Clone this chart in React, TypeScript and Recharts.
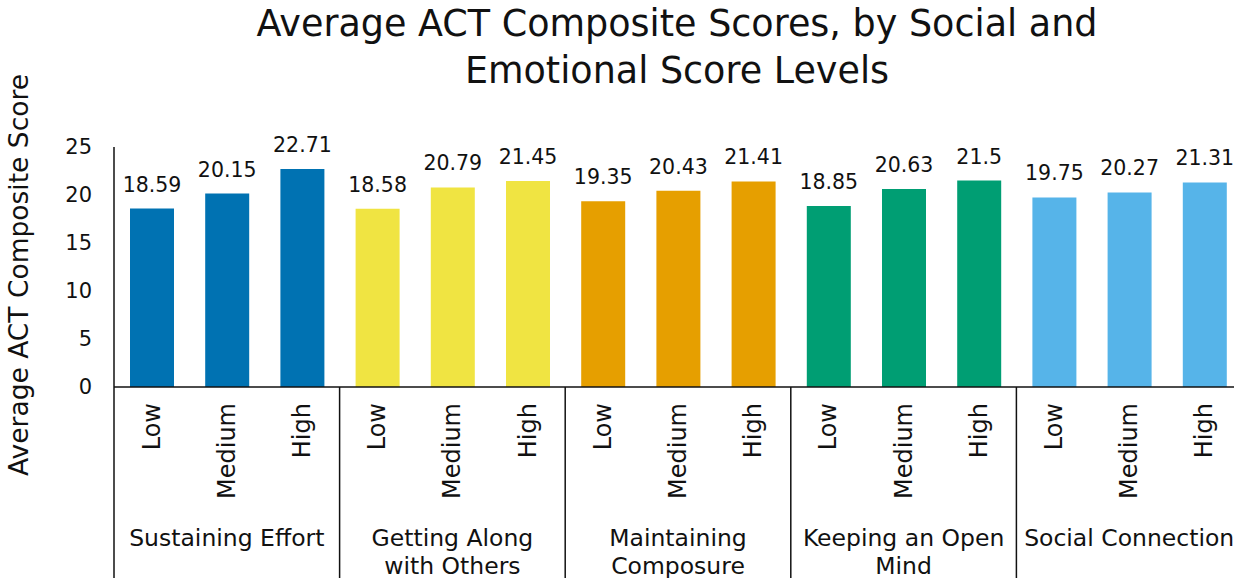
import { Bar, BarChart, Cell, LabelList, Label, XAxis, YAxis } from "recharts";

const levels = ["Low", "Medium", "High"];
const groupLines = [
  ["Sustaining Effort"],
  ["Getting Along", "with Others"],
  ["Maintaining", "Composure"],
  ["Keeping an Open", "Mind"],
  ["Social Connection"],
];
const groupColors = ["#0072B2", "#F0E442", "#E69F00", "#009E73", "#56B4E9"];
const scores = [
  [18.59, 20.15, 22.71],
  [18.58, 20.79, 21.45],
  [19.35, 20.43, 21.41],
  [18.85, 20.63, 21.5],
  [19.75, 20.27, 21.31],
];
const yTicks = [0, 5, 10, 15, 20, 25];

const data = groupLines.flatMap((_, gi) =>
  levels.map((level, li) => ({
    key: `${gi}-${li}`,
    level,
    group: gi,
    idx: li,
    score: scores[gi][li],
  }))
);

const FONT = "'DejaVu Sans', sans-serif";
const W = 1250;
const H = 578;
const M = { top: 147, right: 8, left: 0, bottom: 0 };
const Y_W = 114;
const BAND = (W - M.left - M.right - Y_W) / data.length;

function LevelTick(props: any) {
  const { x, y, payload } = props;
  const d = data[payload.index];
  const ty = y + 16;
  return (
    <g>
      <text
        x={x}
        y={ty}
        transform={`rotate(-90 ${x} ${ty})`}
        textAnchor="end"
        dominantBaseline="central"
        fontSize={24}
        fill="#111"
        fontFamily={FONT}
      >
        {d.level}
      </text>
      {d.idx === 0 && (
        <line x1={x - BAND / 2} x2={x - BAND / 2} y1={y} y2={y + 191} stroke="#111" strokeWidth={1.5} />
      )}
      {d.idx === 1 &&
        groupLines[d.group].map((line, i) => (
          <text
            key={i}
            x={x}
            y={y + 159 + i * 27.5}
            textAnchor="middle"
            fontSize={23.5}
            fill="#111"
            fontFamily={FONT}
          >
            {line}
          </text>
        ))}
    </g>
  );
}

export default function App() {
  return (
    <div style={{ position: "absolute", left: 0, top: 0, width: 1234, height: 578, overflow: "hidden", background: "#fff" }}>
      <div
        style={{
          position: "absolute",
          left: 0,
          top: 0,
          width: 1354,
          textAlign: "center",
          fontFamily: FONT,
          fontSize: 36.5,
          lineHeight: "47px",
          color: "#111",
          zIndex: 1,
          whiteSpace: "nowrap",
        }}
      >
        Average ACT Composite Scores, by Social and
        <br />
        Emotional Score Levels
      </div>
      <BarChart width={W} height={H} data={data} margin={M}>
        <XAxis
          dataKey="key"
          interval={0}
          height={191}
          tickLine={false}
          tickSize={0}
          tickMargin={0}
          axisLine={{ stroke: "#111", strokeWidth: 1.5 }}
          tick={<LevelTick />}
        />
        <YAxis
          width={Y_W}
          domain={[0, 25]}
          ticks={yTicks}
          tickLine={false}
          tickSize={20}
          tickMargin={2}
          axisLine={{ stroke: "#111", strokeWidth: 1.5 }}
          tick={{ fill: "#111", fontSize: 21, fontFamily: FONT }}
        >
          <Label
            content={() => (
              <text
                x={18}
                y={275}
                transform="rotate(-90 18 275)"
                textAnchor="middle"
                dominantBaseline="central"
                fontSize={26.5}
                fill="#111"
                fontFamily={FONT}
              >
                Average ACT Composite Score
              </text>
            )}
          />
        </YAxis>
        <Bar dataKey="score" barSize={44} isAnimationActive={false}>
          {data.map((d) => (
            <Cell key={d.key} fill={groupColors[d.group]} />
          ))}
          <LabelList
            dataKey="score"
            position="top"
            offset={17}
            fill="#111"
            fontSize={20.5}
            fontFamily={FONT}
          />
        </Bar>
      </BarChart>
    </div>
  );
}
